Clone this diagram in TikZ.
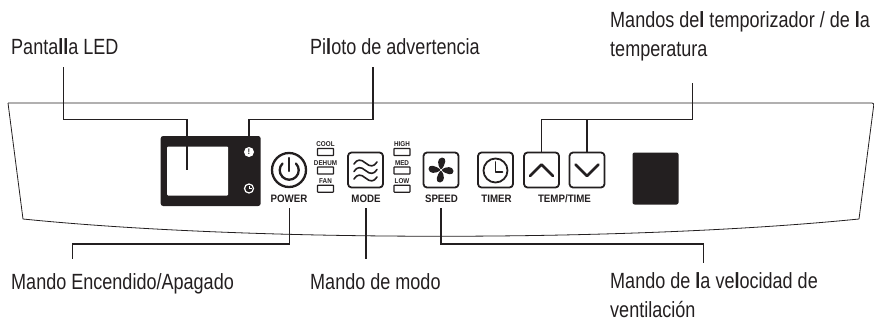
\documentclass[tikz,border=0pt]{standalone}
\usepackage{fontspec}
\setmainfont{Liberation Sans}[FakeStretch=0.82]
\newfontfamily\panelfont{Liberation Sans}[FakeStretch=0.9]
\definecolor{inkblack}{HTML}{231F20}
\newcommand{\heavy}[1]{\textbf{#1}}
\tikzset{
  callout/.style={anchor=base west,inner sep=0,font=\fontsize{22}{22}\selectfont,text=inkblack},
  leader/.style={draw=inkblack,line width=1.5pt},
  outline/.style={draw=inkblack,line width=0.8pt},
  btnbox/.style={draw=inkblack,line width=1.8pt,rounded corners=3.5,minimum size=35,inner sep=0},
  btnname/.style={inner sep=0,font=\panelfont\bfseries\fontsize{10.8}{10.8}\selectfont,text=inkblack},
  tinyname/.style={inner sep=0,font=\panelfont\bfseries\fontsize{7}{7}\selectfont,text=inkblack},
  lamp/.style={draw=inkblack,line width=1.1pt,rounded corners=0.5,minimum width=16,minimum height=7,inner sep=0},
  glyph/.style={draw=inkblack,line width=1.8pt,line cap=round,line join=round},
}
\begin{document}
\begin{tikzpicture}[x=1pt,y=-1pt]
\useasboundingbox (0,0) rectangle (874,321);
% panel
\draw[outline,rounded corners=2] (8,103) -- (874,103) -- (859,219);
\draw[outline,rounded corners=2] (8,103) -- (23,219);
\draw[outline] (23,219) .. controls (250,242) and (630,242) .. (859,219);
% display
\node[fill=inkblack,rounded corners=2.5,minimum width=100,minimum height=70,inner sep=0] (screen) at (210.7,171) {};
\node[fill=white,rounded corners=1,minimum width=61,minimum height=49,inner sep=0] (window) at (197.7,171) {};
\node[circle,fill=white,minimum size=10,inner sep=0,font=\bfseries\fontsize{8}{8}\selectfont] (warn) at (249,152) {!};
\node[circle,draw=white,line width=1.2pt,minimum size=9,inner sep=0] (clocklamp) at (249,188.5) {};
\draw[white,line width=0.8pt] (249,186) -- (249,188.5) -- (251.5,188.5);
% power
\node[circle,draw=inkblack,line width=2.3pt,minimum size=34,inner sep=0] (power) at (289,170) {};
\draw[glyph,line width=2.3pt] (282.5,163.5) arc[start angle=225,end angle=-45,radius=9.5];
\draw[glyph,line width=2.3pt] (289.2,158) -- (289.2,171);
\node[btnname] (powername) at (289,199) {POWER};
% mode lamps
\node[tinyname] (coolname) at (325.5,144) {COOL};
\node[lamp] (cool) at (325.5,152) {};
\node[tinyname] (dehumname) at (325.5,162.7) {DEHUM};
\node[lamp] (dehum) at (325.5,170.5) {};
\node[tinyname] (fanname) at (325.5,180.7) {FAN};
\node[lamp] (fan) at (325.5,188.7) {};
% mode
\node[btnbox] (mode) at (365.5,170) {};
\foreach \y in {163,170.5,178}
  \draw[glyph,line width=1.6pt] (354,\y+1) .. controls (357,\y-4) and (361,\y-4) .. (365.5,\y) .. controls (370,\y+4) and (374,\y+4) .. (377,\y-1);
\node[btnname] (modename) at (366,199) {MODE};
% speed lamps
\node[tinyname] (highname) at (402,144) {HIGH};
\node[lamp] (high) at (402,152) {};
\node[tinyname] (medname) at (402,162.7) {MED};
\node[lamp] (med) at (402,170.5) {};
\node[tinyname] (lowname) at (402,180.7) {LOW};
\node[lamp] (low) at (402,188.7) {};
% speed
\node[btnbox] (speed) at (441,170) {};
\foreach \a in {0,90,180,270}
  \fill[inkblack,rotate around={\a:(441,170)}] (441,170) .. controls (437,165) and (437,158) .. (442,157.5) .. controls (447,157.5) and (446,164) .. (441,170);
\node[circle,fill=white,minimum size=2.5,inner sep=0] (hub) at (441,170) {};
\node[btnname] (speedname) at (441.5,199) {SPEED};
% timer
\node[btnbox] (timer) at (495.5,170) {};
\node[circle,draw=inkblack,line width=1.8pt,minimum size=24,inner sep=0] (dial) at (495.5,170.5) {};
\draw[glyph] (495.5,162) -- (495.5,172) -- (502.5,172);
\node[btnname] (timername) at (496.5,199) {TIMER};
% temp
\node[btnbox] (up) at (541.5,170) {};
\draw[glyph,line width=2.5pt] (530,176) -- (541.5,164.5) -- (553,176);
\node[btnbox] (down) at (587,170) {};
\draw[glyph,line width=2.5pt] (575.5,164.5) -- (587,176) -- (598.5,164.5);
\node[btnname] (tempname) at (564.5,199) {TEMP/TIME};
\node[fill=inkblack,rounded corners=2,minimum width=46,minimum height=52,inner sep=0] (blank) at (655.5,178.5) {};
% labels
\node[callout] (ledlabel) at (11,55) {Panta\heavy{ll}a LED};
\node[callout] (warnlabel) at (310,55) {Pi\heavy{l}oto de advertencia};
\node[callout] (keylabel) at (610,28) {Mandos de\heavy{l} temporizador / de \heavy{l}a};
\node[callout] (keylabelb) at (610,56.5) {temperatura};
\node[callout] (powerlabel) at (11,289) {Mando Encendido/Apagado};
\node[callout] (modelabel) at (310,289) {Mando de modo};
\node[callout] (speedlabel) at (610,288) {Mando de \heavy{l}a ve\heavy{l}ocidad de};
\node[callout] (speedlabelb) at (610,317) {ventilaci\'on};
% leaders
\coordinate (ledend) at (187,170);
\coordinate (ledtop) at (63.3,67);
\coordinate (warntop) at (373,67);
\coordinate (keytop) at (692.5,83);
\coordinate (powerend) at (72.7,259);
\coordinate (speedend) at (703.3,263);
\coordinate (modeend) at (366,259);
\coordinate (ledbar) at (63.3,119.5);
\coordinate (warnbar) at (373,119.5);
\coordinate (keybar) at (692.5,119.5);
\coordinate (powerbar) at (289.5,244);
\coordinate (speedbar) at (441,244);
\draw[leader] (ledtop) -- (ledbar) -| (ledend);
\draw[leader] (warntop) -- (warnbar) -| (screen.north -| warn);
\draw[leader] (keytop) -- (keybar) -| (up.north);
\draw[leader] (keybar -| down.north) -- (down.north);
\draw[leader] (powerbar |- 0,208) -- (powerbar) -| (powerend);
\draw[leader] (modeend |- 0,208) -- (modeend);
\draw[leader] (speedbar |- 0,208) -- (speedbar) -| (speedend);
\end{tikzpicture}
\end{document}
